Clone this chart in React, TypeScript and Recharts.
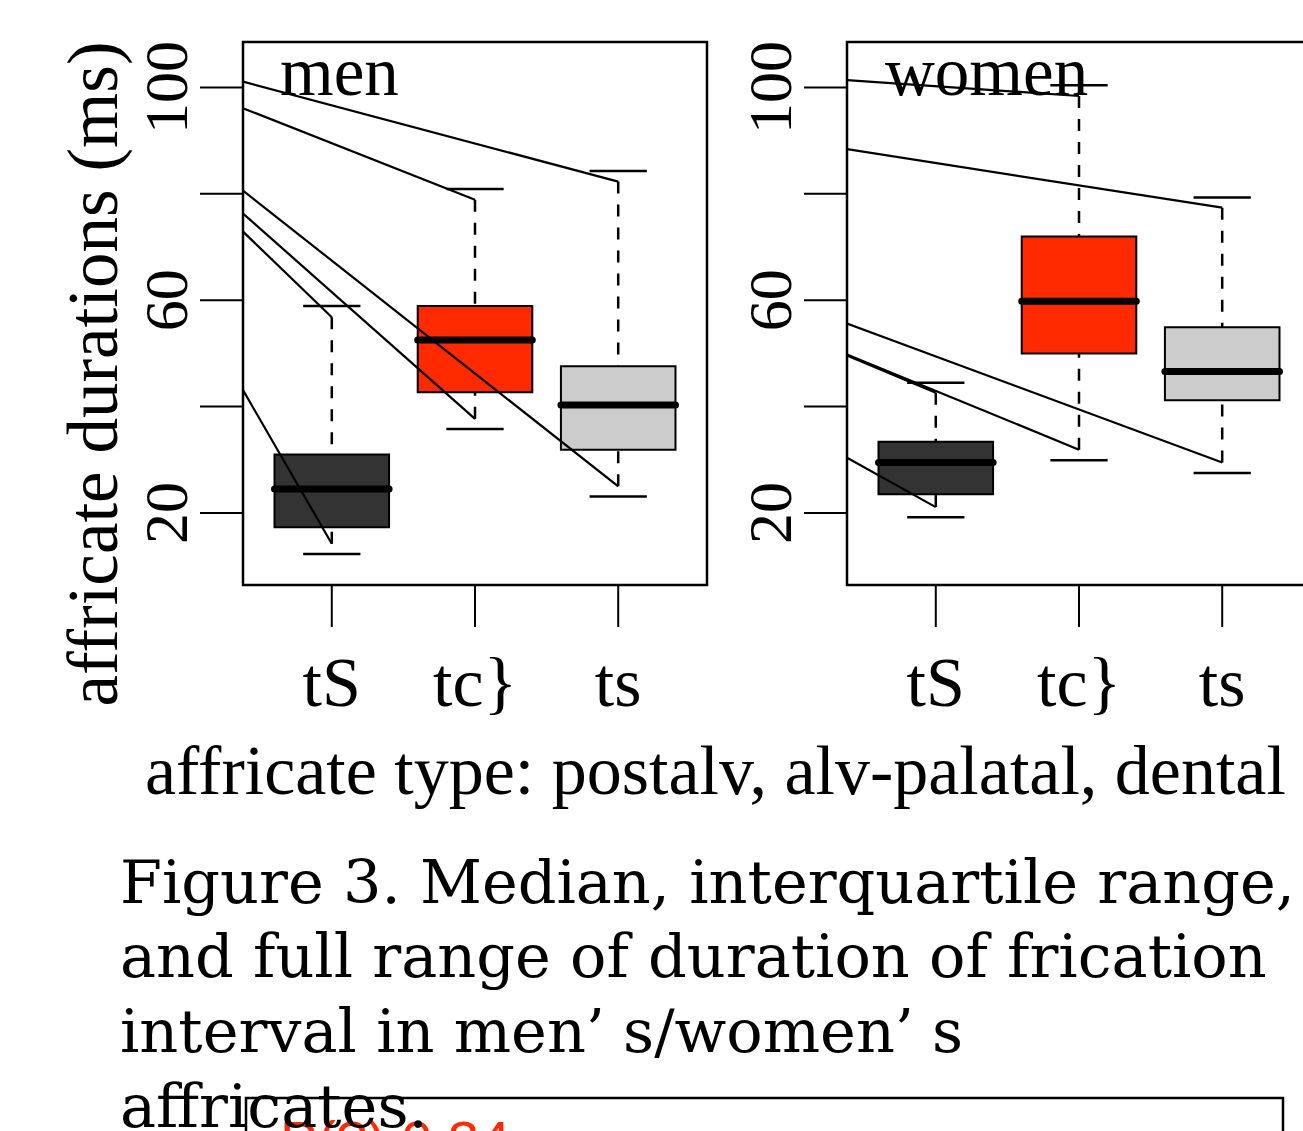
import React from "react";
import { ComposedChart, XAxis, YAxis, Line, ReferenceArea, ReferenceLine } from "recharts";

const groups = ["tS", "tc}", "ts"];
const yTicks = [20, 40, 60, 80, 100];
const yTickLabels = ["20", "", "60", "", "100"];
const boxFills = ["#333333", "#ff2a00", "#cccccc"];

const xDomain = [0.38, 3.62];
const yDomain = [6.45, 108.55];

// men
const menLow = [12.3, 35.8, 23.1];
const menQ1 = [17.3, 42.7, 31.9];
const menMedian = [24.5, 52.5, 40.3];
const menQ3 = [31.0, 58.9, 47.6];
const menHigh = [58.9, 80.9, 84.3];
const menTipLow = [14.2, 37.7, 25.0];
const menTipHigh = [56.8, 78.9, 82.3];
const menFromHigh = [72.9, 96.1, 101.1];
const menFromLow = [43.1, 76.3, 80.6];

// women
const womenLow = [19.2, 29.9, 27.5];
const womenQ1 = [23.5, 50.0, 41.2];
const womenMedian = [29.5, 59.8, 46.6];
const womenQ3 = [33.4, 72.0, 54.9];
const womenHigh = [44.5, 100.4, 79.3];
const womenTipLow = [21.1, 31.9, 29.5];
const womenTipHigh = [42.6, 98.4, 77.4];
const womenFromHigh = [49.6, 101.4, 88.4];
const womenFromLow = [30.4, 49.8, 55.6];

const captionLines = [
  "Figure 3. Median, interquartile range,",
  "and full range of duration of frication",
];

const serif = "'Liberation Serif', 'Times New Roman', serif";
const captionFont = "'DejaVu Serif', serif";

const XTick = (props: any) => {
  const { x, y, payload } = props;
  return (
    <text
      x={x}
      y={y + 79}
      textAnchor="middle"
      fontSize={70}
      fontFamily={serif}
      style={{ fontFamily: serif }}
      fill="#000"
    >
      {groups[payload.value - 1]}
    </text>
  );
};

const YTick = (props: any) => {
  const { x, y, payload } = props;
  const label = yTickLabels[yTicks.indexOf(payload.value)];
  if (!label) return <g />;
  return (
    <text
      x={x}
      y={y}
      transform={`rotate(-90 ${x} ${y})`}
      textAnchor="middle"
      fontSize={62}
      fontFamily={serif}
      style={{ fontFamily: serif }}
      fill="#000"
    >
      {label}
    </text>
  );
};

function Panel(props: any) {
  const { left, low, q1, median, q3, high, tipLow, tipHigh, fromHigh, fromLow } = props;
  const slopes: { x: number; y: number }[][] = [];
  groups.forEach((g, i) => {
    slopes.push([{ x: xDomain[0], y: fromHigh[i] }, { x: i + 1, y: tipHigh[i] }]);
    slopes.push([{ x: xDomain[0], y: fromLow[i] }, { x: i + 1, y: tipLow[i] }]);
  });
  return (
    <div style={{ position: "absolute", left, top: 0 }}>
      <ComposedChart width={720} height={720} margin={{ top: 42, right: 13, bottom: 0, left: 43 }}>
        <XAxis
          type="number"
          dataKey="x"
          domain={xDomain}
          ticks={[1, 2, 3]}
          allowDataOverflow
          interval={0}
          axisLine={false}
          height={135}
          tickSize={42}
          tickMargin={0}
          stroke="#000"
          tickLine={{ stroke: "#000", strokeWidth: 2 }}
          tick={XTick}
        />
        <YAxis
          type="number"
          domain={yDomain}
          ticks={yTicks}
          allowDataOverflow
          interval={0}
          axisLine={false}
          width={200}
          tickSize={43}
          tickMargin={13}
          stroke="#000"
          tickLine={{ stroke: "#000", strokeWidth: 2 }}
          tick={YTick}
        />
        {groups.map((g, i) => (
          <ReferenceArea
            key={"box" + g}
            x1={i + 1 - 0.4}
            x2={i + 1 + 0.4}
            y1={q1[i]}
            y2={q3[i]}
            fill={boxFills[i]}
            fillOpacity={1}
            stroke="#000"
            strokeWidth={2}
            ifOverflow="visible"
          />
        ))}
        {groups.map((g, i) => (
          <ReferenceLine
            key={"wu" + g}
            segment={[{ x: i + 1, y: tipHigh[i] }, { x: i + 1, y: q3[i] }]}
            stroke="#000"
            strokeWidth={2.5}
            strokeDasharray="12 11"
            ifOverflow="visible"
          />
        ))}
        {groups.map((g, i) => (
          <ReferenceLine
            key={"wl" + g}
            segment={[{ x: i + 1, y: tipLow[i] }, { x: i + 1, y: q1[i] }]}
            stroke="#000"
            strokeWidth={2.5}
            strokeDasharray="12 11"
            ifOverflow="visible"
          />
        ))}
        {groups.map((g, i) => (
          <ReferenceLine
            key={"cu" + g}
            segment={[{ x: i + 1 - 0.2, y: high[i] }, { x: i + 1 + 0.2, y: high[i] }]}
            stroke="#000"
            strokeWidth={2.5}
            ifOverflow="visible"
          />
        ))}
        {groups.map((g, i) => (
          <ReferenceLine
            key={"cl" + g}
            segment={[{ x: i + 1 - 0.2, y: low[i] }, { x: i + 1 + 0.2, y: low[i] }]}
            stroke="#000"
            strokeWidth={2.5}
            ifOverflow="visible"
          />
        ))}
        {groups.map((g, i) => (
          <ReferenceLine
            key={"md" + g}
            segment={[{ x: i + 1 - 0.4, y: median[i] }, { x: i + 1 + 0.4, y: median[i] }]}
            stroke="#000"
            strokeWidth={7}
            strokeLinecap="round"
            ifOverflow="visible"
          />
        ))}
        {slopes.map((pts, k) => (
          <Line
            key={"sl" + k}
            data={pts}
            dataKey="y"
            type="linear"
            stroke="#000"
            strokeWidth={2.2}
            dot={false}
            activeDot={false}
            isAnimationActive={false}
          />
        ))}
        <ReferenceArea
          x1={xDomain[0]}
          x2={xDomain[1]}
          y1={yDomain[0]}
          y2={yDomain[1]}
          fill="none"
          stroke="#000"
          strokeWidth={2.5}
          ifOverflow="visible"
        />
      </ComposedChart>
    </div>
  );
}

export default function App() {
  return (
    <div
      style={{
        position: "absolute",
        left: 0,
        top: 0,
        width: 1303,
        height: 1131,
        overflow: "hidden",
        background: "#fff",
      }}
    >
      <Panel
        left={0}
        low={menLow}
        q1={menQ1}
        median={menMedian}
        q3={menQ3}
        high={menHigh}
        tipLow={menTipLow}
        tipHigh={menTipHigh}
        fromHigh={menFromHigh}
        fromLow={menFromLow}
      />
      <Panel
        left={604}
        low={womenLow}
        q1={womenQ1}
        median={womenMedian}
        q3={womenQ3}
        high={womenHigh}
        tipLow={womenTipLow}
        tipHigh={womenTipHigh}
        fromHigh={womenFromHigh}
        fromLow={womenFromLow}
      />
      <svg width={1303} height={1131} style={{ position: "absolute", left: 0, top: 0 }}>
        <text x={280} y={95} fontSize={69} fontFamily={serif} fill="#000">men</text>
        <text x={885} y={95} fontSize={69} fontFamily={serif} fill="#000">women</text>
        <text
          x={117}
          y={374}
          transform="rotate(-90 117 374)"
          textAnchor="middle"
          fontSize={71}
          fontFamily={serif}
          fill="#000"
        >
          affricate durations (ms)
        </text>
        <text x={145} y={794} fontSize={70} fontFamily={serif} fill="#000">
          affricate type: postalv, alv-palatal, dental
        </text>
        <rect x={246} y={1098} width={1037} height={100} fill="none" stroke="#000" strokeWidth={2.5} />
        <text x={280} y={1160} fontSize={56} fontFamily="'Liberation Sans', sans-serif" fill="#ff2a00">
          P(?) 0.34
        </text>
        {captionLines.map((t, i) => (
          <text key={t} x={120} y={903 + i * 74} fontSize={60.5} fontFamily={captionFont} fill="#000">
            {t}
          </text>
        ))}
        <text x={120} y={1052} fontSize={60.5} fontFamily={captionFont} fill="#000">
          interval in men’<tspan dx={18}>s/women’</tspan>
          <tspan dx={18}>s</tspan>
        </text>
        <text x={120} y={1127} fontSize={60.5} fontFamily={captionFont} fill="#000">
          affricates.
        </text>
      </svg>
    </div>
  );
}
